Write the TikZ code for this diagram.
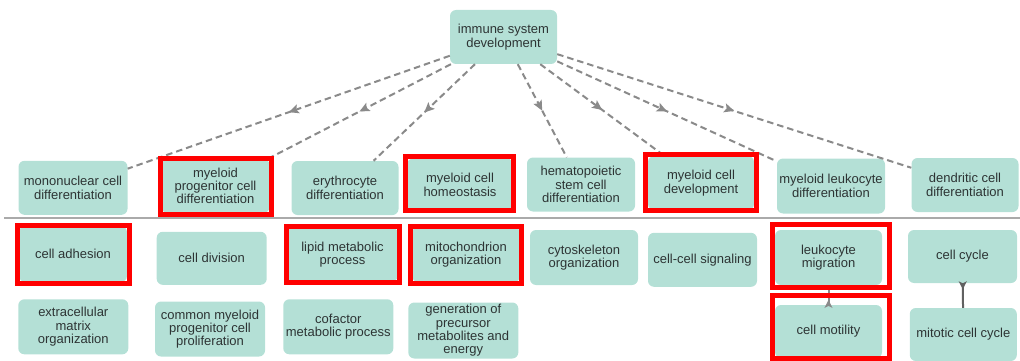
\documentclass[tikz,border=0pt]{standalone}
\usepackage{fontspec}
\setmainfont{Liberation Sans}
\usetikzlibrary{arrows.meta,decorations.markings}
\definecolor{nodefill}{RGB}{180,224,214}
\definecolor{txt}{RGB}{45,52,52}
\definecolor{edgegray}{RGB}{138,138,138}
\definecolor{sepgray}{RGB}{170,170,170}
\definecolor{hlred}{RGB}{255,0,0}
\tikzset{
  go/.style={rectangle, rounded corners=6pt, fill=nodefill, text=txt, align=center,
    font=\fontsize{13}{13.3}\selectfont, inner sep=0pt},
  hl/.style={draw=hlred, line width=5pt},
  dep/.style={draw=edgegray, line width=2pt, dash pattern=on 6.5pt off 4pt,
    postaction={decorate},
    decoration={markings, mark=at position 0.5 with {\arrow{Stealth[length=10pt,width=9pt,inset=2pt]}}}},
  rel/.style={draw=#1, line width=2pt, postaction={decorate},
    decoration={markings, mark=at position 0.25 with {\arrow{Stealth[length=8pt,width=8pt,inset=2pt]}}}},
  sepline/.style={draw=sepgray, line width=2pt}
}
\begin{document}
\begin{tikzpicture}[x=1pt,y=-1pt]
\useasboundingbox (0,0) rectangle (1020,361);
% nodes
\node[go, minimum width=107pt, minimum height=54pt] (root) at (503.5,37) {immune system\\development};
\node[go, minimum width=109pt, minimum height=54pt] (mono) at (73,187.8) {mononuclear cell\\differentiation};
\node[go, minimum width=108pt, minimum height=54pt] (prog) at (215.5,186) {myeloid\\progenitor cell\\differentiation};
\node[go, minimum width=107pt, minimum height=54pt] (ery) at (345,188) {erythrocyte\\differentiation};
\node[go, minimum width=106pt, minimum height=53pt] (homeo) at (460,185) {myeloid cell\\homeostasis};
\node[go, minimum width=108pt, minimum height=54pt] (hema) at (581,184.5) {hematopoietic\\stem cell\\differentiation};
\node[go, minimum width=106pt, minimum height=54pt] (dev) at (701,183) {myeloid cell\\development};
\node[go, minimum width=108pt, minimum height=55pt] (mld) at (831,186) {myeloid leukocyte\\differentiation};
\node[go, minimum width=107pt, minimum height=54pt] (dend) at (965,185) {dendritic cell\\differentiation};

\node[go, minimum width=108pt, minimum height=56pt] (adh) at (73,254) {cell adhesion};
\node[go, minimum width=110pt, minimum height=53pt] (div) at (211.7,258.3) {cell division};
\node[go, minimum width=110pt, minimum height=55pt] (lipid) at (342.5,254.5) {lipid metabolic\\process};
\node[go, minimum width=108pt, minimum height=55pt] (mito) at (466,254.5) {mitochondrion\\organization};
\node[go, minimum width=108pt, minimum height=55pt] (cyto) at (584,257.5) {cytoskeleton\\organization};
\node[go, minimum width=109pt, minimum height=54pt] (ccs) at (702.5,259.8) {cell-cell signaling};
\node[go, minimum width=107pt, minimum height=55pt] (migr) at (828.5,257.5) {leukocyte\\migration};
\node[go, minimum width=109pt, minimum height=53pt] (cyc) at (962.5,256.5) {cell cycle};

\node[go, minimum width=110pt, minimum height=55pt] (ecm) at (73.3,326.8) {extracellular\\matrix\\organization};
\node[go, minimum width=110pt, minimum height=55pt] (cmp) at (210,329) {common myeloid\\progenitor cell\\proliferation};
\node[go, minimum width=110pt, minimum height=55pt] (cof) at (338.3,326.8) {cofactor\\metabolic process};
\node[go, minimum width=110pt, minimum height=56pt] (gen) at (463.3,330.5) {generation of\\precursor\\metabolites and\\energy};
\node[go, minimum width=107pt, minimum height=53pt] (mot) at (828.5,331.5) {cell motility};
\node[go, minimum width=107pt, minimum height=53pt] (mit) at (963.3,334.5) {mitotic cell cycle};

% separator
\draw[sepline] (4,217.5) -- (1020,217.5);

% edges
\draw[dep] (root) -- (mono);
\draw[dep] (root) -- (prog);
\draw[dep] (root) -- (ery);
\draw[dep] (root) -- (hema);
\draw[dep] (root) -- (dev);
\draw[dep] (root) -- (mld);
\draw[dep] (root) -- (dend);
\draw[rel=edgegray] (mot) -- (migr);
\draw[rel=edgegray!70!black] (cyc) -- (mit);

% highlight boxes
\draw[hl] (160,158) rectangle (271,214.5);
\draw[hl] (405.5,156.7) rectangle (513,210);
\draw[hl] (645.5,154) rectangle (756.5,210);
\draw[hl] (17,225.5) rectangle (129,283);
\draw[hl] (286.3,226) rectangle (399,282.3);
\draw[hl] (410.3,226.3) rectangle (521.7,283);
\draw[hl] (772.5,224.5) rectangle (889.5,287);
\draw[hl] (772.5,295.5) rectangle (889.5,358.5);
\end{tikzpicture}
\end{document}
